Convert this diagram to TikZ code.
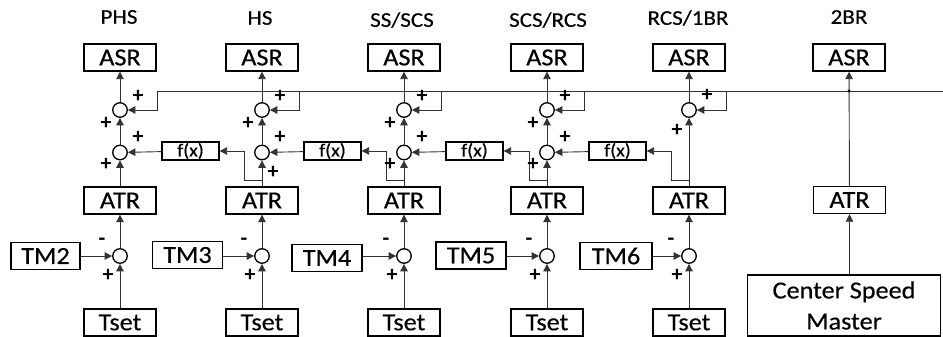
\documentclass[tikz,border=0pt]{standalone}
\usepackage{fontspec}
\setmainfont{Carlito}
\newfontfamily\bxfont[FakeStretch=1.07,FakeBold=0.4]{Carlito}
\newfontfamily\ttfontx[FakeStretch=1.1,FakeBold=0.3]{Carlito}
\usetikzlibrary{arrows.meta}
\tikzset{
  blk/.style={draw=black, line width=1.4pt, minimum width=72pt, minimum height=27pt, inner sep=0pt, font=\bxfont\fontsize{24.5}{26}\selectfont},
  fbx/.style={draw=black, line width=1.3pt, minimum width=57pt, minimum height=18pt, inner sep=0pt, font=\bxfont\fontsize{18.5}{18}\selectfont},
  sumc/.style={circle, draw=black, line width=1.3pt, minimum size=14.5pt, inner sep=0pt},
  conn/.style={draw=black!80, line width=0.9pt},
  arr/.style={conn, -{Triangle[length=7.5pt,width=7.5pt]}},
  sgn/.style={font=\fontsize{22}{22}\selectfont\bfseries, inner sep=0pt},
  ttl/.style={font=\ttfontx\fontsize{21}{23}\selectfont, inner sep=0pt}
}
\begin{document}
\begin{tikzpicture}[x=1pt,y=-1pt]
\useasboundingbox (0,0) rectangle (943,337);
% titles
\node[ttl] (t1) at (119,17) {PHS};
\node[ttl] (t2) at (260,18) {HS};
\node[ttl] (t3) at (402,20) {SS/SCS};
\node[ttl] (t4) at (548,20) {SCS/RCS};
\node[ttl] (t5) at (688,18) {RCS/1BR};
\node[ttl] (t6) at (849,17) {2BR};
% columns
\foreach \i/\x in {1/120,2/262,3/404,4/547,5/689}{
  \node[blk] (asr\i) at (\x,57.5) {ASR};
  \node[sumc] (u\i) at (\x,110) {};
  \node[blk] (atr\i) at (\x,200.5) {ATR};
  \node[sumc] (b\i) at (\x,256) {};
  \node[blk] (ts\i) at (\x,322.5) {Tset};
  \coordinate (d\i) at (\x+37,91);
  \coordinate (e\i) at (\x+37,110);
}
\foreach \i/\x in {1/120,2/262,3/404,4/547}{
  \node[sumc] (l\i) at (\x,152.5) {};
  \node[fbx] (f\i) at (\x+70.5,151) {f(x)};
}
\node[blk, minimum width=69pt] (tm1) at (45.5,256) {TM2};
\node[blk, minimum width=70pt] (tm2) at (187.5,255) {TM3};
\node[blk, minimum width=70pt] (tm3) at (327,258) {TM4};
\node[blk, minimum width=70pt] (tm4) at (471,255.5) {TM5};
\node[blk, minimum width=72pt] (tm5) at (616,256) {TM6};
% 2BR column
\node[blk] (asr6) at (849,57.5) {ASR};
\node[blk] (atr6) at (849.5,200) {ATR};
\node[draw=black, line width=1.4pt, minimum width=193pt, minimum height=61pt, inner sep=0pt, align=center,
      font=\bxfont\fontsize{24.5}{31}\selectfont] (csm) at (844,305.5) {Center Speed\\Master};
% connectors in columns
\foreach \i in {1,...,5}{
  \draw[arr] (ts\i) -- (b\i);
  \draw[arr] (tm\i.east |- b\i) -- (b\i);
  \draw[arr] (b\i) -- (atr\i);
  \draw[arr] (u\i) -- (asr\i);
  \draw[arr] (d\i) -- (e\i) -- (u\i);
}
\foreach \i in {1,...,4}{
  \draw[arr] (atr\i) -- (l\i);
  \draw[arr] (l\i) -- (u\i);
  \draw[arr] (f\i) -- (l\i);
}
\draw[arr] (atr5) -- (u5);
% f(x) inputs from next column
\foreach \i/\x in {1/262,2/404,3/547,4/689}{
  \coordinate (p\i) at (\x,180);
  \coordinate (q\i) at (\x-18,180);
  \coordinate (r\i) at (\x-18,151);
  \draw[arr] (p\i) -- (q\i) -- (r\i) -- (f\i);
}
% main bus
\coordinate (busR) at (943,91);
\draw[conn] (d1) -- (busR);
\draw[arr] (atr6) -- (asr6);
\coordinate (jn) at (asr6.south |- busR);
\fill[black] (jn) circle (1.7pt);
\draw[arr] (csm.north -| atr6) -- (atr6);
% signs
\foreach \i/\x in {1/120,2/262,3/404,4/547}{
  \node[sgn] (su\i) at (\x+18,96) {+};
  \node[sgn] (sv\i) at (\x-14,123) {+};
  \node[sgn] (sl\i) at (\x+18,137) {+};
}
\node[sgn] (su5) at (707,95) {+};
\node[sgn] (sv5) at (677,130) {+};
\node[sgn] (sm1) at (106,164) {+};
\node[sgn] (sm2) at (273,172) {+};
\node[sgn] (sm3) at (390,164) {+};
\node[sgn] (sm4) at (533,164) {+};
\foreach \i/\x in {1/120,2/262,3/404,4/547,5/689}{
  \node[sgn] (sn\i) at (\x-18,242) {-};
  \node[sgn] (sp\i) at (\x-12,275) {+};
}
\end{tikzpicture}
\end{document}
